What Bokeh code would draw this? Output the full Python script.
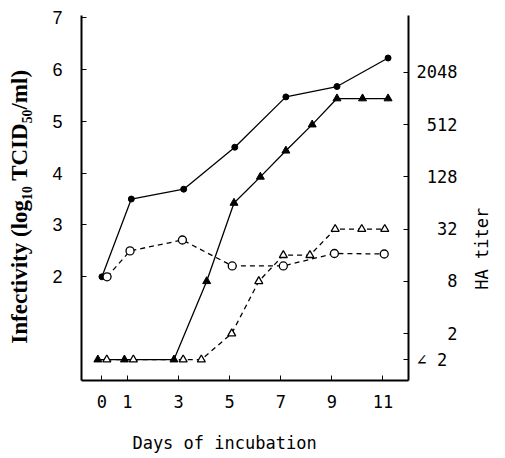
import math
from bokeh.plotting import figure
from bokeh.models import Range1d, LinearAxis, FixedTicker
from bokeh.embed import file_html
from bokeh.resources import INLINE

# ---- data ----
# infectivity (log10 TCID50/ml), left axis
inf_closed_days = [0, 1.15, 3.2, 5.2, 7.2, 9.2, 11.2]
inf_closed = [2.0, 3.5, 3.69, 4.5, 5.47, 5.67, 6.22]
inf_open_days = [0.2, 1.1, 3.15, 5.1, 7.1, 9.1, 11.05]
inf_open = [2.0, 2.5, 2.71, 2.21, 2.21, 2.45, 2.44]
# HA titer (log2 of titer; 0 means "<2"), right axis
ha_closed_days = [-0.16, 0.88, 2.82, 4.1, 5.17, 6.2, 7.2, 8.23, 9.2, 10.2, 11.2]
ha_closed = [0, 0, 0, 3, 6, 7, 8, 9, 10, 10, 10]
ha_open_days = [0.19, 1.23, 3.18, 3.89, 5.08, 6.14, 7.1, 8.14, 9.13, 10.17, 11.07]
ha_open = [0, 0, 0, 0, 1, 3, 4, 4, 5, 5, 5]

x_ticks = [0, 1, 3, 5, 7, 9, 11]
left_ticks = [2, 3, 4, 5, 6, 7]
ha_ticks = [0, 1, 3, 5, 7, 9, 11]
ha_labels = ["\u2220\u00a02", "\u00a0\u00a0\u00a02", "\u00a0\u00a0\u00a08", "\u00a0\u00a032",
             "\u00a0128", "\u00a0512", "2048"]
ha_title = "HA titer"
ha_title_at = 1.75   # left-axis units where the rotated right title starts

MONO = "DejaVu Sans Mono"

p = figure(width=505, height=458, output_backend="svg", toolbar_location=None,
           x_range=Range1d(-0.8, 12.0), y_range=Range1d(0, 7.04),
           min_border_left=81, min_border_right=95, min_border_top=15,
           min_border_bottom=78)
p.extra_y_ranges = {"ha": Range1d(-0.8, 13.18)}
p.outline_line_color = None
p.xgrid.visible = False
p.ygrid.visible = False
p.background_fill_color = "white"

# bottom axis
xa = p.xaxis[0]
xa.ticker = FixedTicker(ticks=x_ticks)
xa.axis_label = "Days of incubation" + "\u00a0" * 4
xa.axis_label_text_font = MONO
xa.axis_label_text_font_size = "17px"
xa.axis_label_text_font_style = "normal"
xa.axis_label_text_color = "black"
xa.axis_label_standoff = 22
xa.major_label_text_font = MONO
xa.major_label_text_font_size = "17px"
xa.major_label_text_color = "black"
xa.major_label_standoff = 14
xa.major_tick_in = 5
xa.major_tick_out = 0
xa.minor_tick_line_color = None
xa.axis_line_width = 2

# left axis
ya = p.yaxis[0]
ya.ticker = FixedTicker(ticks=left_ticks)
ya.axis_label = "Infectivity (log\u2081\u2080 TCID\u2085\u2080/ml)" + "\u00a0" * 3
ya.axis_label_text_font = "Liberation Serif"
ya.axis_label_text_font_size = "23px"
ya.axis_label_text_font_style = "bold"
ya.axis_label_text_color = "black"
ya.axis_label_standoff = 17
ya.major_label_text_font = "Liberation Sans"
ya.major_label_text_font_size = "18px"
ya.major_label_text_color = "black"
ya.major_label_standoff = 19
ya.major_tick_in = 5
ya.major_tick_out = 0
ya.minor_tick_line_color = None
ya.axis_line_width = 2

# right axis (HA titer scale)
ra = LinearAxis(y_range_name="ha", ticker=FixedTicker(ticks=ha_ticks),
                major_label_overrides=dict(zip(ha_ticks, ha_labels)))
ra.major_label_text_font = MONO
ra.major_label_text_font_size = "17px"
ra.major_label_text_color = "black"
ra.major_label_standoff = 8
ra.major_tick_in = 5
ra.major_tick_out = 0
ra.minor_tick_line_color = None
ra.axis_line_width = 2
p.add_layout(ra, "right")

# right title, as the single label of a bare outer axis
ta = LinearAxis(ticker=FixedTicker(ticks=[ha_title_at]),
                major_label_overrides={ha_title_at: ha_title})
ta.major_label_orientation = math.pi / 2
ta.major_label_text_font = MONO
ta.major_label_text_font_size = "17px"
ta.major_label_text_color = "black"
ta.major_label_standoff = 16
ta.major_tick_line_color = None
ta.minor_tick_line_color = None
ta.axis_line_color = None
p.add_layout(ta, "right")

# lines
p.line(inf_closed_days, inf_closed, line_color="black", line_width=1.3)
p.line(inf_open_days, inf_open, line_color="black", line_width=1.3, line_dash="5 4")
p.line(ha_closed_days, ha_closed, line_color="black", line_width=1.3, y_range_name="ha")
p.line(ha_open_days, ha_open, line_color="black", line_width=1.3, line_dash="5 4",
       y_range_name="ha")

# markers
p.scatter(inf_closed_days, inf_closed, marker="circle", size=6,
          fill_color="black", line_color="black")
p.scatter(inf_open_days, inf_open, marker="circle", size=8,
          fill_color="white", line_color="black", line_width=1.3)
p.scatter(ha_closed_days, ha_closed, marker="triangle", size=8,
          fill_color="black", line_color="black", y_range_name="ha")
p.scatter(ha_open_days, ha_open, marker="triangle", size=8,
          fill_color="white", line_color="black", line_width=1.3, y_range_name="ha")

open("out.html", "w").write(file_html(p, INLINE))
